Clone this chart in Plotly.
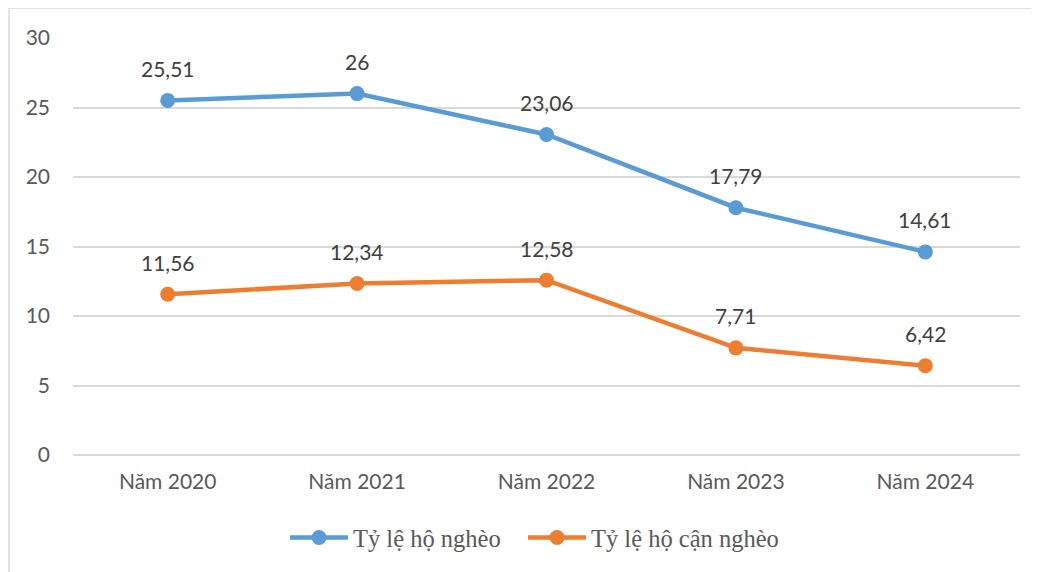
import plotly.graph_objects as go

categories = ["Năm 2020", "Năm 2021", "Năm 2022", "Năm 2023", "Năm 2024"]
poor = [25.51, 26, 23.06, 17.79, 14.61]
near_poor = [11.56, 12.34, 12.58, 7.71, 6.42]
series_names = ["Tỷ lệ hộ nghèo", "Tỷ lệ hộ cận nghèo"]
colors = ["#5B9BD5", "#ED7D31"]

def fmt(v):
    return f"{v:g}".replace(".", ",")

fig = go.Figure()
annotations = []
for i, (name, vals, col) in enumerate(zip(series_names, [poor, near_poor], colors)):
    fig.add_trace(go.Scatter(
        x=categories, y=vals, name=name, mode="lines+markers",
        line=dict(color=col, width=4.5),
        marker=dict(color=col, size=15),
        legend="legend" if i == 0 else "legend2",
    ))
    for c, v in zip(categories, vals):
        annotations.append(dict(
            x=c, y=v, text=fmt(v), showarrow=False, yshift=32,
            font=dict(family="Lato, Open Sans, sans-serif", size=21, color="#404040"),
        ))

legend_common = dict(orientation="h", y=-0.198, xanchor="left", yanchor="middle",
                     font=dict(family="Liberation Serif, serif", size=24.5, color="#595959"),
                     itemwidth=58, bgcolor="rgba(0,0,0,0)")

fig.update_layout(
    width=1039, height=572,
    margin=dict(l=65, r=27, t=30, b=125, autoexpand=False),
    paper_bgcolor="white", plot_bgcolor="white",
    showlegend=True,
    legend=dict(x=0.2239, **legend_common),
    legend2=dict(x=0.4752, **legend_common),
    annotations=annotations,
    shapes=[dict(type="rect", xref="paper", yref="paper",
                 x0=-0.0676, x1=1.03, y0=-0.35, y1=1.072,
                 line=dict(color="#D9D9D9", width=1.5), layer="below")],
)
fig.update_xaxes(range=[-0.5, 4.5], showgrid=False, showline=False, zeroline=False,
                 ticks="", ticklabelstandoff=12,
                 tickfont=dict(family="Lato, Open Sans, sans-serif", size=21, color="#595959"))
fig.update_yaxes(range=[0, 30], dtick=5, showgrid=True, gridcolor="#D9D9D9", gridwidth=1.5,
                 zeroline=True, zerolinecolor="#D9D9D9", zerolinewidth=1.5,
                 showline=False, ticks="", ticklabelstandoff=22,
                 tickfont=dict(family="Lato, Open Sans, sans-serif", size=21, color="#595959"))

fig.write_html("out.html")
